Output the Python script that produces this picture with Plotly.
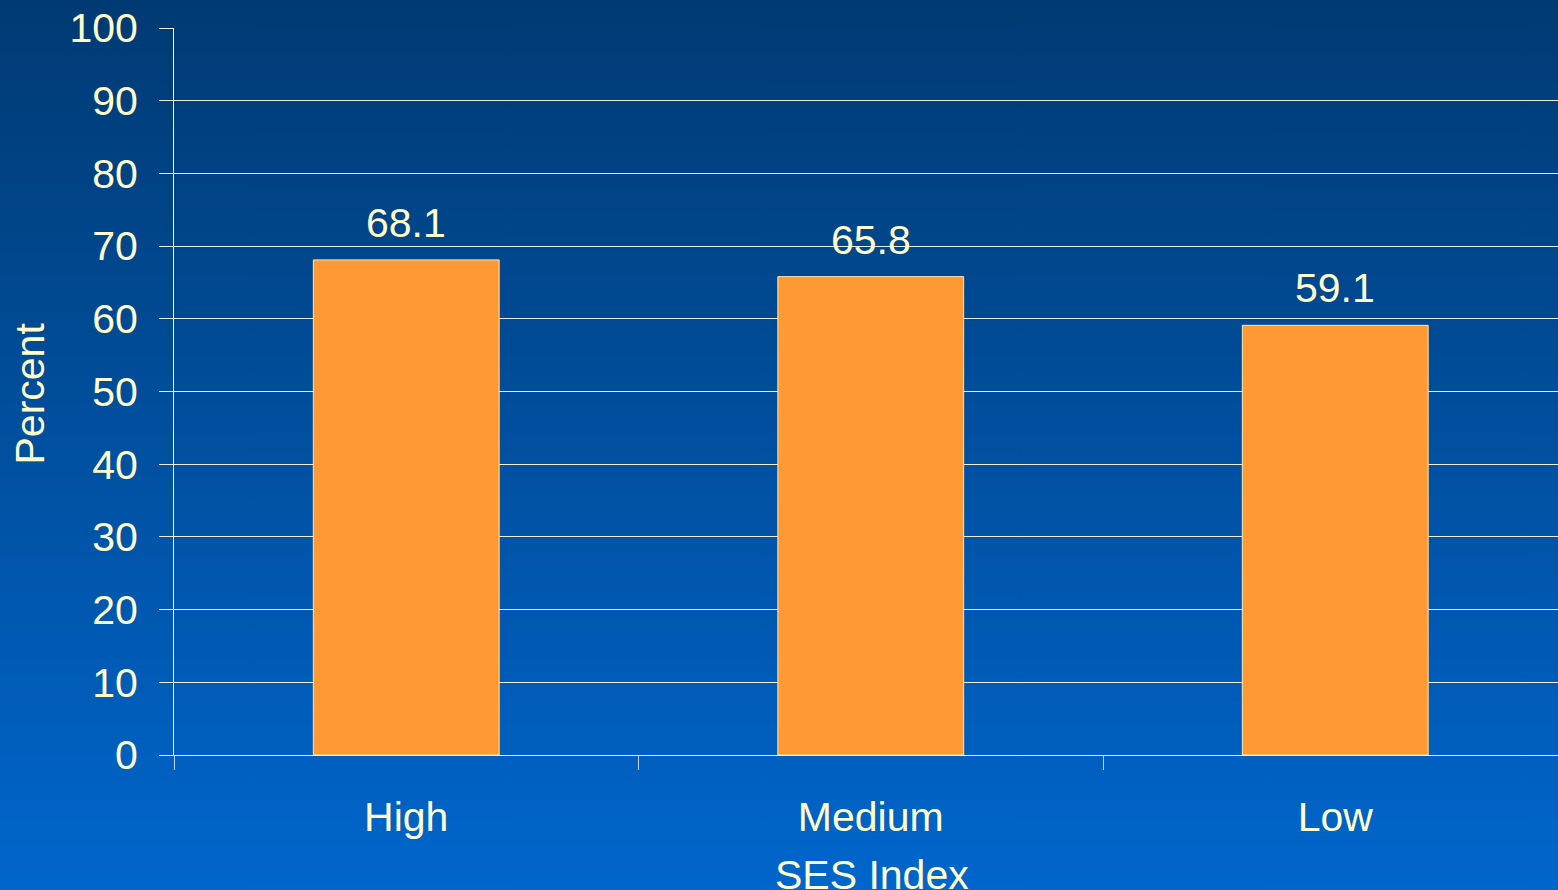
import base64
import plotly.graph_objects as go

categories = ["High", "Medium", "Low"]
values = [68.1, 65.8, 59.1]
value_labels = ["68.1", "65.8", "59.1"]
y_ticks = [0, 10, 20, 30, 40, 50, 60, 70, 80, 90, 100]
x_title = "SES Index"
y_title = "Percent"

TXT = "#ffffcc"
GRID = "#eeeed8"
FONT = "Liberation Sans, Arial, sans-serif"
FS = 41

W, H = 1558, 890
L, T, B, R = 174, 28, 135, 0
pw, ph = W - L - R, H - T - B

svg = (
    '<svg xmlns="http://www.w3.org/2000/svg" width="100" height="100" preserveAspectRatio="none">'
    '<defs><linearGradient id="g" x1="0" y1="0" x2="0" y2="1">'
    '<stop offset="0" stop-color="#003a73"/><stop offset="1" stop-color="#0066cc"/>'
    '</linearGradient></defs><rect width="100" height="100" fill="url(#g)"/></svg>'
)
src = "data:image/svg+xml;base64," + base64.b64encode(svg.encode()).decode()

fig = go.Figure()
fig.add_trace(go.Bar(
    x=categories, y=values, width=0.4,
    marker=dict(color="#ff9933", line=dict(color="#ffe9b0", width=1)),
    hoverinfo="skip",
))

for c, v, t in zip(categories, values, value_labels):
    fig.add_annotation(x=c, y=v, text=t, showarrow=False, yanchor="bottom",
                       yshift=12, font=dict(size=FS, color=TXT, family=FONT))

# axis titles as annotations for precise placement
fig.add_annotation(xref="paper", yref="paper", x=(872 - L) / pw, y=0,
                   text=x_title, showarrow=False, xanchor="center", yanchor="middle",
                   yshift=-120, font=dict(size=FS, color=TXT, family=FONT))
fig.add_annotation(xref="paper", yref="paper", x=0, y=0.5, textangle=-90,
                   text=y_title, showarrow=False, xanchor="center", yanchor="middle",
                   xshift=-(L - 29), yshift=-2, font=dict(size=FS, color=TXT, family=FONT))

fig.update_layout(
    width=W, height=H,
    margin=dict(l=L, r=R, t=T, b=B, autoexpand=False),
    paper_bgcolor="#004c99",
    plot_bgcolor="rgba(0,0,0,0)",
    showlegend=False,
    font=dict(family=FONT, color=TXT, size=FS),
    images=[dict(source=src, xref="paper", yref="paper",
                 x=-L / pw, y=1 + T / ph, sizex=W / pw, sizey=H / ph,
                 xanchor="left", yanchor="top", sizing="stretch", layer="below")],
    xaxis=dict(
        type="category", range=[-0.5, 2.5 - 9.5 / 464.5],
        showgrid=False, showline=True, linecolor=GRID, linewidth=1,
        ticks="outside", tickson="boundaries", ticklen=14, tickcolor="#c8d0e0",
        tickfont=dict(size=FS, color=TXT), ticklabelstandoff=26,
        automargin=False,
    ),
    yaxis=dict(
        range=[0, 100], tickvals=y_ticks, showgrid=True, gridcolor=GRID, gridwidth=1,
        zeroline=False, showline=True, linecolor=TXT, linewidth=1,
        ticks="outside", ticklen=14, tickcolor=GRID,
        tickfont=dict(size=FS, color=TXT), ticklabelstandoff=13,
        automargin=False,
    ),
)

fig.write_html("out.html")
